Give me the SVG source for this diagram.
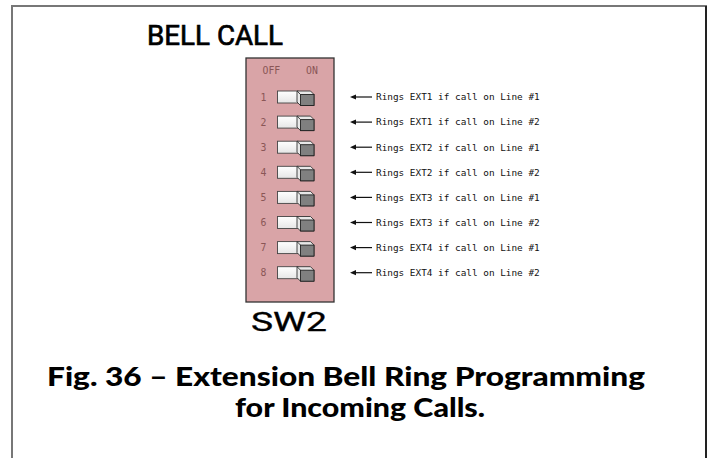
<svg xmlns="http://www.w3.org/2000/svg" width="711" height="458" viewBox="0 0 711 458">
<style>
.frame{fill:none;stroke:#777;stroke-width:2}
.mono{font-family:"DejaVu Sans Mono","Liberation Mono",monospace;font-size:9.4px;fill:#111}
.lbl{font-family:"DejaVu Sans Mono","Liberation Mono",monospace;font-size:9.8px;fill:#8a5656}
.cap{font-family:Lato,"Noto Sans","Liberation Sans",sans-serif;font-weight:900;font-size:26px;fill:#000}
.head{font-family:Roboto,"Liberation Sans",Arial,sans-serif;font-weight:400;fill:#000}
</style>
<defs>
<linearGradient id="wg" x1="0" y1="0" x2="0" y2="1"><stop offset="0" stop-color="#fff"/><stop offset="1" stop-color="#e6e6e6"/></linearGradient>
<g id="sw">
<rect x="277.5" y="-6" width="20.5" height="12" fill="url(#wg)" stroke="#444" stroke-width="0.9"/>
<path d="M297 -6 L310.5 -6 L314 -2.5 L314 8.5 L300.5 8.5 L297 5 Z" fill="#e8e8e8" stroke="#333" stroke-width="0.9"/>
<rect x="300.5" y="-2.5" width="13.5" height="11" fill="#808080" stroke="#222" stroke-width="0.9"/>
<line x1="297" y1="-6" x2="300.5" y2="-2.5" stroke="#333" stroke-width="0.9"/>
</g>
<g id="ar">
<path d="M350 0 L356 -2.6 L356 2.6 Z" fill="#111"/>
<line x1="355" y1="0" x2="372" y2="0" stroke="#111" stroke-width="1.2"/>
</g>
</defs>
<rect width="711" height="458" fill="#fff"/>
<path class="frame" d="M12 458 V6 H706 V458"/>
<line x1="706" y1="6" x2="706" y2="458" stroke="#222" stroke-width="2"/>
<text class="head" x="147" y="45" font-size="28" stroke="#000" stroke-width="0.7" textLength="136" lengthAdjust="spacingAndGlyphs">BELL CALL</text>
<g id="sw2">
<rect x="246" y="58" width="88" height="244" fill="#d9a4a7" stroke="#333" stroke-width="1.3"/>
<text class="lbl" x="262.5" y="74">OFF</text>
<text class="lbl" x="306" y="74">ON</text>
</g>
<g id="switches">
<g transform="translate(0,97)"><text class="lbl" x="263.5" y="3.5" text-anchor="middle">1</text><use href="#sw"/></g>
<g transform="translate(0,122.1)"><text class="lbl" x="263.5" y="3.5" text-anchor="middle">2</text><use href="#sw"/></g>
<g transform="translate(0,147.2)"><text class="lbl" x="263.5" y="3.5" text-anchor="middle">3</text><use href="#sw"/></g>
<g transform="translate(0,172.3)"><text class="lbl" x="263.5" y="3.5" text-anchor="middle">4</text><use href="#sw"/></g>
<g transform="translate(0,197.4)"><text class="lbl" x="263.5" y="3.5" text-anchor="middle">5</text><use href="#sw"/></g>
<g transform="translate(0,222.5)"><text class="lbl" x="263.5" y="3.5" text-anchor="middle">6</text><use href="#sw"/></g>
<g transform="translate(0,247.6)"><text class="lbl" x="263.5" y="3.5" text-anchor="middle">7</text><use href="#sw"/></g>
<g transform="translate(0,272.7)"><text class="lbl" x="263.5" y="3.5" text-anchor="middle">8</text><use href="#sw"/></g>
</g>
<g id="connectors">
<use href="#ar" y="97"/><use href="#ar" y="122.1"/><use href="#ar" y="147.2"/><use href="#ar" y="172.3"/>
<use href="#ar" y="197.4"/><use href="#ar" y="222.5"/><use href="#ar" y="247.6"/><use href="#ar" y="272.7"/>
</g>
<g id="labels">
<text class="mono" x="376" y="100.3">Rings EXT1 if call on Line #1</text>
<text class="mono" x="376" y="125.4">Rings EXT1 if call on Line #2</text>
<text class="mono" x="376" y="150.5">Rings EXT2 if call on Line #1</text>
<text class="mono" x="376" y="175.6">Rings EXT2 if call on Line #2</text>
<text class="mono" x="376" y="200.7">Rings EXT3 if call on Line #1</text>
<text class="mono" x="376" y="225.8">Rings EXT3 if call on Line #2</text>
<text class="mono" x="376" y="250.9">Rings EXT4 if call on Line #1</text>
<text class="mono" x="376" y="276">Rings EXT4 if call on Line #2</text>
</g>
<text class="head" x="251" y="331" font-size="25" stroke="#000" stroke-width="0.3" textLength="76" lengthAdjust="spacingAndGlyphs">SW2</text>
<text class="cap" x="47" y="386" textLength="598" lengthAdjust="spacingAndGlyphs">Fig. 36 – Extension Bell Ring Programming</text>
<text class="cap" x="235" y="417" textLength="250" lengthAdjust="spacingAndGlyphs">for Incoming Calls.</text>
</svg>
